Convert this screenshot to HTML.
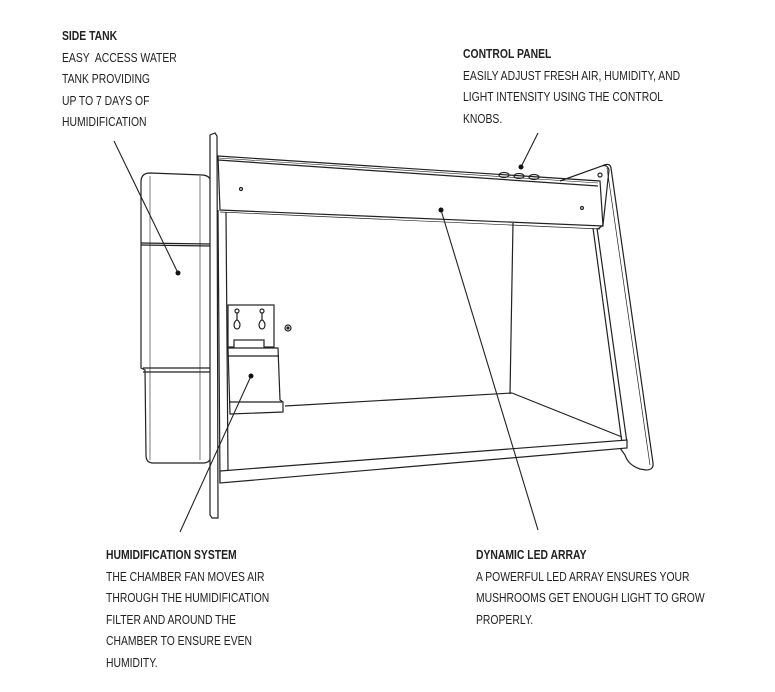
<!DOCTYPE html>
<html><head><meta charset="utf-8"><style>
body{margin:0;background:#fff;}
.w{position:relative;width:775px;height:692px;overflow:hidden;font-family:"Liberation Sans",sans-serif;color:#222;}
.t{position:absolute;font-size:12.5px;line-height:21.5px;white-space:nowrap;transform:scaleX(0.83);transform-origin:0 0;}
.t b{font-weight:bold;}
svg{position:absolute;left:0;top:0;}
</style></head><body><div class="w">
<svg width="775" height="692" viewBox="0 0 775 692" fill="none" stroke="#222" stroke-width="1.2">
<path d="M141,182 Q141,173 150,173 L203,175 Q211,176 211,183 L211,455 Q211,463 203,463 L153,463 Q146,463 146,455 L145,370 L141,368 Z" fill="#fff"/>
<line x1="141" y1="245" x2="211" y2="246"/>
<line x1="141" y1="243" x2="211" y2="244"/>
<line x1="143" y1="368" x2="212" y2="368"/>
<line x1="143" y1="372" x2="212" y2="372"/>
<line x1="150" y1="176" x2="150" y2="460" stroke-width="0.6"/>
<line x1="200" y1="176" x2="200" y2="460" stroke-width="0.6"/>
<path d="M210,135 L215,133 L217,136 L218,518 L212,518 L210,515 Z" fill="#fff"/>
<line x1="218" y1="210" x2="220" y2="483"/>
<line x1="226" y1="212" x2="228" y2="470"/>
<path d="M218,156 L600,181 L603,226 L220,210 Z" fill="#fff"/>
<line x1="218" y1="160" x2="598" y2="186"/>
<line x1="218" y1="158" x2="598" y2="183" stroke-width="0.6"/>
<line x1="220" y1="212" x2="600" y2="229" stroke-width="0.7"/>
<circle cx="241" cy="189" r="1.5"/><circle cx="582" cy="208" r="1.5"/>
<ellipse cx="504" cy="175" rx="5" ry="2.5"/><ellipse cx="519" cy="176" rx="5" ry="2.5"/><ellipse cx="534" cy="177" rx="5" ry="2.5"/>
<path d="M560,181 L602,166 Q607,164 609,170 L603,225 L598,229"/>
<path d="M602,166 Q610,162 611,168 L653,463 Q654,470 646,470 L640,469 Q628,465 625,455 L620,448"/>
<line x1="607" y1="168" x2="650" y2="465" stroke-width="0.7"/>
<circle cx="600" cy="175" r="2"/>
<line x1="593" y1="228" x2="622" y2="443"/>
<line x1="597" y1="228" x2="627" y2="443"/>
<line x1="513" y1="223" x2="510" y2="394"/>
<line x1="285" y1="406" x2="512" y2="393"/>
<line x1="512" y1="393" x2="622" y2="437"/>
<path d="M220,471 L627,440 L627,448 L220,483 Z" fill="#fff"/>
<rect x="228" y="305" width="46" height="42" fill="#fff"/>
<circle cx="237" cy="311" r="2"/><circle cx="262" cy="311" r="2"/>
<path d="M237,313 L237,320 M234,324 Q237,316 240,324 Q240,329 237,329 Q234,329 234,324"/>
<path d="M262,313 L262,320 M259,324 Q262,316 265,324 Q265,329 262,329 Q259,329 259,324"/>
<circle cx="288" cy="328" r="3"/><circle cx="288" cy="328" r="1" fill="#222"/>
<rect x="234" y="340" width="30" height="12" fill="#fff"/>
<path d="M228,348 L278,348 L280,400 L283,402 L283,412 L230,414 Z" fill="#fff"/>
<line x1="228" y1="356" x2="279" y2="356"/>
<line x1="229" y1="402" x2="282" y2="402"/>
<g stroke-width="1.1">
<line x1="114" y1="141" x2="178" y2="273"/>
<line x1="538" y1="133" x2="521" y2="167"/>
<line x1="441" y1="210" x2="538" y2="530"/>
<line x1="251" y1="376" x2="180" y2="532"/>
</g>
<g fill="#111" stroke="none">
<circle cx="178" cy="273" r="2.5"/><circle cx="521" cy="167" r="2.5"/><circle cx="441" cy="210" r="2.5"/><circle cx="251" cy="376" r="2.5"/>
</g>
</svg>
<div class="t" style="left:62px;top:26px"><b>SIDE TANK</b><br>EASY&nbsp; ACCESS WATER<br>TANK PROVIDING<br>UP TO 7 DAYS OF<br>HUMIDIFICATION</div>
<div class="t" style="left:463px;top:44px"><b>CONTROL PANEL</b><br>EASILY ADJUST FRESH AIR, HUMIDITY, AND<br>LIGHT INTENSITY USING THE CONTROL<br>KNOBS.</div>
<div class="t" style="left:106px;top:545px"><b>HUMIDIFICATION SYSTEM</b><br>THE CHAMBER FAN MOVES AIR<br>THROUGH THE HUMIDIFICATION<br>FILTER AND AROUND THE<br>CHAMBER TO ENSURE EVEN<br>HUMIDITY.</div>
<div class="t" style="left:476px;top:545px"><b>DYNAMIC LED ARRAY</b><br>A POWERFUL LED ARRAY ENSURES YOUR<br>MUSHROOMS GET ENOUGH LIGHT TO GROW<br>PROPERLY.</div>
</div></body></html>
